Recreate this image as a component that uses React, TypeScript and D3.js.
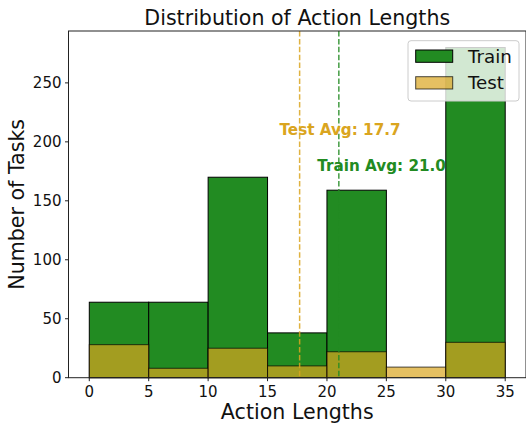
import * as d3 from "d3";
import { FC } from "react";

// histogram bins (action length), counts per bin
const binEdges = [0, 5, 10, 15, 20, 25, 30, 35];
const trainCounts = [64, 64, 170, 38, 159, 0, 280];
const testCounts = [28, 8, 25, 10, 22, 9, 30];

// averages shown as dashed lines
const trainAvg = 21.0;
const testAvg = 17.7;

const xTicks = [0, 5, 10, 15, 20, 25, 30, 35];
const yTicks = [0, 50, 100, 150, 200, 250];

const WIDTH = 526;
const HEIGHT = 424;
const FONT = "DejaVu Sans, sans-serif";

const TRAIN_COLOR = "#228B22";
const TEST_COLOR = "#DAA520";

const App: FC = () => {
  const margin = { top: 31, right: 0, bottom: 46.3, left: 68.5 };

  const xMax = binEdges[binEdges.length - 1];
  const xPad = xMax * 0.05;
  const xScale = d3
    .scaleLinear()
    .domain([binEdges[0] - xPad, xMax + xPad])
    .range([margin.left, WIDTH - margin.right]);

  const yMax = (d3.max(trainCounts.concat(testCounts)) ?? 0) * 1.05;
  const yScale = d3
    .scaleLinear()
    .domain([0, yMax])
    .range([HEIGHT - margin.bottom, margin.top]);

  const y0 = yScale(0);
  const plotLeft = xScale.range()[0];
  const plotRight = xScale.range()[1];
  const plotTop = yScale.range()[1];
  const plotMidX = (plotLeft + plotRight) / 2;
  const plotMidY = (plotTop + y0) / 2;

  const bars = (counts: number[], color: string, opacity: number) =>
    counts.map((c, i) =>
      c > 0 ? (
        <rect
          key={i}
          x={xScale(binEdges[i])}
          y={yScale(c)}
          width={xScale(binEdges[i + 1]) - xScale(binEdges[i])}
          height={y0 - yScale(c)}
          fill={color}
          fillOpacity={opacity}
          stroke="#000"
          strokeOpacity={opacity}
          strokeWidth={1}
        />
      ) : null
    );

  // legend box (upper right)
  const lg = { x: 408, y: 40.7, w: 111, h: 60.3 };

  return (
    <svg
      width={WIDTH}
      height={HEIGHT}
      style={{ position: "absolute", left: 0, top: 0, background: "#fff" }}
      fontFamily={FONT}
    >
      {/* train then test histograms */}
      <g>{bars(trainCounts, TRAIN_COLOR, 1)}</g>
      <g>{bars(testCounts, TEST_COLOR, 0.7)}</g>

      {/* average lines */}
      <line
        x1={xScale(testAvg)}
        x2={xScale(testAvg)}
        y1={plotTop}
        y2={y0}
        stroke={TEST_COLOR}
        strokeOpacity={0.85}
        strokeWidth={1.5}
        strokeDasharray="5.5,2.4"
      />
      <line
        x1={xScale(trainAvg)}
        x2={xScale(trainAvg)}
        y1={plotTop}
        y2={y0}
        stroke={TRAIN_COLOR}
        strokeOpacity={0.85}
        strokeWidth={1.5}
        strokeDasharray="5.5,2.4"
      />
      <text
        x={xScale(testAvg + 3.4)}
        y={yScale(210)}
        dy="0.35em"
        textAnchor="middle"
        fontSize={15.2}
        fontWeight="bold"
        fill={TEST_COLOR}
      >
        Test Avg: {testAvg.toFixed(1)}
      </text>
      <text
        x={xScale(trainAvg + 3.6)}
        y={yScale(180)}
        dy="0.35em"
        textAnchor="middle"
        fontSize={15.2}
        fontWeight="bold"
        fill={TRAIN_COLOR}
      >
        Train Avg: {trainAvg.toFixed(1)}
      </text>

      {/* spines */}
      <rect
        x={plotLeft}
        y={plotTop}
        width={plotRight - plotLeft}
        height={y0 - plotTop}
        fill="none"
        stroke="#222"
        strokeWidth={1}
      />

      {/* x ticks */}
      {xTicks.map((t) => (
        <g key={t} transform={`translate(${xScale(t)},${y0})`}>
          <line y2={3.5} stroke="#222" />
          <text y={19.5} textAnchor="middle" fontSize={15} fill="#111">
            {t}
          </text>
        </g>
      ))}

      {/* y ticks */}
      {yTicks.map((t) => (
        <g key={t} transform={`translate(${plotLeft},${yScale(t)})`}>
          <line x2={-3.5} stroke="#222" />
          <text x={-7} dy="0.36em" textAnchor="end" fontSize={15} fill="#111">
            {t}
          </text>
        </g>
      ))}

      {/* labels */}
      <text x={plotMidX} y={25} textAnchor="middle" fontSize={20.6} fill="#111">
        Distribution of Action Lengths
      </text>
      <text x={plotMidX} y={419} textAnchor="middle" fontSize={20.6} fill="#111">
        Action Lengths
      </text>
      <text
        transform={`translate(23.5,${plotMidY}) rotate(-90)`}
        textAnchor="middle"
        fontSize={20.6}
        fill="#111"
      >
        Number of Tasks
      </text>

      {/* legend */}
      <g>
        <rect
          x={lg.x}
          y={lg.y}
          width={lg.w}
          height={lg.h}
          rx={3}
          fill="#fff"
          fillOpacity={0.8}
          stroke="#ccc"
          strokeWidth={1}
        />
        <rect
          x={lg.x + 7.7}
          y={lg.y + 9.3}
          width={37}
          height={12.3}
          fill={TRAIN_COLOR}
          stroke="#000"
        />
        <text x={lg.x + 60} y={lg.y + 15.5} dy="0.36em" fontSize={18.3} fill="#111">
          Train
        </text>
        <rect
          x={lg.x + 7.7}
          y={lg.y + 36}
          width={37}
          height={12.3}
          fill={TEST_COLOR}
          fillOpacity={0.7}
          stroke="#000"
          strokeOpacity={0.7}
        />
        <text x={lg.x + 60} y={lg.y + 42.2} dy="0.36em" fontSize={18.3} fill="#111">
          Test
        </text>
      </g>
    </svg>
  );
};

export default App;
